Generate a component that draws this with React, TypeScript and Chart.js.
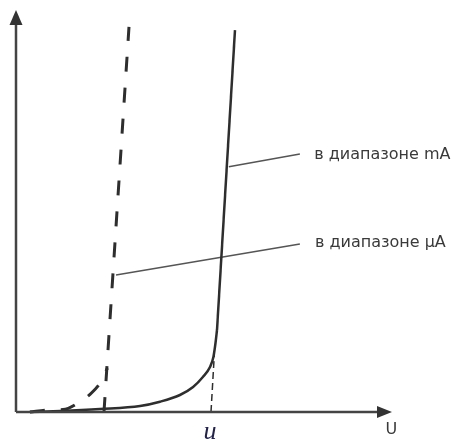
import React, { useEffect, useRef } from "react";
import { Chart, registerables } from "chart.js";

Chart.register(...registerables);

// Data (U on x, I on y, arbitrary units 0..100)
const mACurveX = [3.7, 11.7, 22.3, 33.0, 38.3, 43.6, 47.1, 49.7, 51.6, 52.5, 53.06, 53.46];
const mACurveY = [0, 0.25, 0.75, 1.5, 2.56, 4.23, 6.22, 8.71, 11.19, 13.68, 17.16, 20.4];
const mASteepX = [53.46, 58.24];
const mASteepY = [20.4, 95.0];
const mAExtX = [51.86, 52.74];
const mAExtY = [0, 14.2];

const uACurveX = [3.7, 8.5, 12.5, 16.6, 20.2, 22.9, 24.3];
const uACurveY = [0, 0.5, 0.6, 2.3, 4.85, 8.0, 10.9];
const uASteepX = [23.4, 30.05];
const uASteepY = [0, 95.8];

const leaderMAX = [56.6, 75.5];
const leaderMAY = [61.0, 64.2];
const leaderUAX = [26.6, 75.5];
const leaderUAY = [34.1, 41.8];

const labelTexts = ["в диапазоне mA", "в диапазоне μA"];
const labelX = [79.3, 79.5];
const labelY = [63.9, 42.2];

const axisLabelU = "U";
const axisLabelUPos = [99.8, -4.5];
const tickLabelU = "u";
const tickLabelUPos = [51.6, -5.0];

const toPts = (xs: number[], ys: number[]) => xs.map((x, i) => ({ x, y: ys[i] }));

const INK = "#2e2e2e";

const axesPlugin = {
  id: "axesArrows",
  afterDatasetsDraw(chart: any) {
    const ctx = chart.ctx;
    const xs = chart.scales.x;
    const ys = chart.scales.y;
    const x0 = xs.getPixelForValue(0);
    const x1 = xs.getPixelForValue(100);
    const y0 = ys.getPixelForValue(0);
    const y1 = ys.getPixelForValue(100);
    ctx.save();
    ctx.strokeStyle = "#444";
    ctx.fillStyle = "#333";
    ctx.lineWidth = 2.5;
    ctx.beginPath();
    ctx.moveTo(x0, y0);
    ctx.lineTo(x1 - 10, y0);
    ctx.moveTo(x0, y0);
    ctx.lineTo(x0, y1 + 10);
    ctx.stroke();
    // x arrow
    ctx.beginPath();
    ctx.moveTo(x1, y0);
    ctx.lineTo(x1 - 15, y0 - 6);
    ctx.lineTo(x1 - 15, y0 + 6);
    ctx.closePath();
    ctx.fill();
    // y arrow
    ctx.beginPath();
    ctx.moveTo(x0, y1);
    ctx.lineTo(x0 - 6.5, y1 + 15);
    ctx.lineTo(x0 + 6.5, y1 + 15);
    ctx.closePath();
    ctx.fill();

    // labels
    ctx.fillStyle = "#3a3a3a";
    ctx.font = "16px 'DejaVu Sans', sans-serif";
    ctx.textBaseline = "middle";
    ctx.textAlign = "left";
    labelTexts.forEach((t, i) => {
      ctx.fillText(t, xs.getPixelForValue(labelX[i]), ys.getPixelForValue(labelY[i]));
    });
    ctx.textAlign = "center";
    ctx.fillText(axisLabelU, xs.getPixelForValue(axisLabelUPos[0]), ys.getPixelForValue(axisLabelUPos[1]));
    ctx.fillStyle = "#22224a";
    ctx.font = "italic 26px 'Liberation Serif', 'Times New Roman', serif";
    ctx.fillText(tickLabelU, xs.getPixelForValue(tickLabelUPos[0]), ys.getPixelForValue(tickLabelUPos[1]));
    ctx.restore();
  },
};

export default function App() {
  const ref = useRef<HTMLCanvasElement | null>(null);
  useEffect(() => {
    if (!ref.current) return;
    const common = { showLine: true, pointRadius: 0, fill: false, clip: false as any };
    const chart = new Chart(ref.current, {
      type: "scatter",
      data: {
        datasets: [
          { ...common, data: toPts(mACurveX, mACurveY), borderColor: INK, borderWidth: 2.5, cubicInterpolationMode: "monotone" },
          { ...common, data: toPts(mASteepX, mASteepY), borderColor: INK, borderWidth: 2.5 },
          { ...common, data: toPts(mAExtX, mAExtY), borderColor: INK, borderWidth: 1.5, borderDash: [7, 4] },
          { ...common, data: toPts(uACurveX, uACurveY), borderColor: INK, borderWidth: 3, borderDash: [15, 16], cubicInterpolationMode: "monotone" },
          { ...common, data: toPts(uASteepX, uASteepY), borderColor: INK, borderWidth: 3, borderDash: [15, 16] },
          { ...common, data: toPts(leaderMAX, leaderMAY), borderColor: "#555", borderWidth: 1.5 },
          { ...common, data: toPts(leaderUAX, leaderUAY), borderColor: "#555", borderWidth: 1.5 },
        ] as any,
      },
      options: {
        animation: false,
        responsive: false,
        devicePixelRatio: 1,
        layout: { padding: { left: 16, right: 63, top: 10, bottom: 29 } },
        scales: {
          x: { type: "linear", min: 0, max: 100, display: false },
          y: { type: "linear", min: 0, max: 100, display: false },
        },
        plugins: { legend: { display: false }, tooltip: { enabled: false } },
        events: [],
      },
      plugins: [axesPlugin],
    });
    return () => chart.destroy();
  }, []);
  return (
    <div style={{ position: "fixed", left: 0, top: 0, width: 455, height: 441, background: "#fff" }}>
      <canvas ref={ref} width={455} height={441} style={{ display: "block" }} />
    </div>
  );
}
